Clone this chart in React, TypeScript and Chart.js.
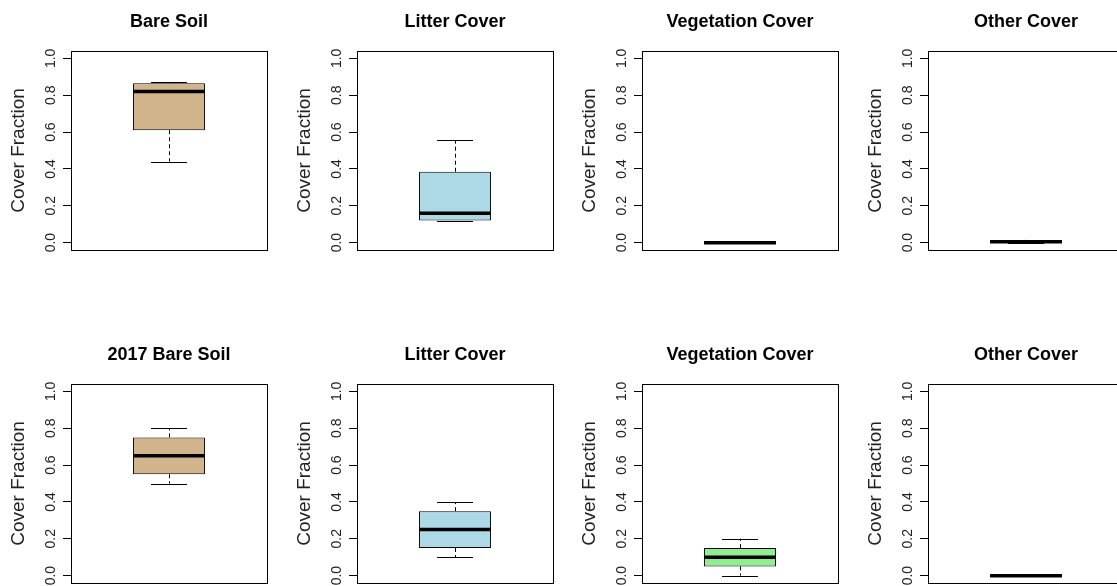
import React, { useEffect, useRef } from 'react';
import { Chart, registerables } from 'chart.js';

Chart.register(...registerables);

// ---- data ----
const TITLES_TOP = ['Bare Soil', 'Litter Cover', 'Vegetation Cover', 'Other Cover'];
const TITLES_BOTTOM = ['2017 Bare Soil', 'Litter Cover', 'Vegetation Cover', 'Other Cover'];
const Y_LABEL = 'Cover Fraction';
const Y_TICKS = [0, 0.2, 0.4, 0.6, 0.8, 1.0];

// five-number summaries: [min, q1, median, q3, max]
const BARE_SOIL_TOP = [0.44, 0.61, 0.82, 0.865, 0.87];
const LITTER_TOP = [0.12, 0.12, 0.16, 0.385, 0.555];
const VEGETATION_TOP = [0, 0, 0, 0, 0];
const OTHER_TOP = [0, 0, 0.005, 0.007, 0.015];

const BARE_SOIL_2017 = [0.5, 0.55, 0.65, 0.75, 0.8];
const LITTER_2017 = [0.1, 0.15, 0.25, 0.35, 0.4];
const VEGETATION_2017 = [0, 0.05, 0.1, 0.15, 0.2];
const OTHER_2017 = [0, 0, 0, 0, 0];

// ---- styles ----
const BOX_COLORS = ['#D2B48C', '#ADD8E6', '#90EE90', '#BEBEBE'];
const FONT = '"Liberation Sans", Arial, Helvetica, sans-serif';
const COL_W = 286;
const ROW_TOP = [0, 333];
const CANVAS_H = 270;

type PanelProps = {
  title: string;
  stats: number[];
  color: string;
  left: number;
  top: number;
};

function BoxPanel({ title, stats, color, left, top }: PanelProps) {
  const ref = useRef<HTMLCanvasElement>(null);

  useEffect(() => {
    if (!ref.current) return;
    const [mn, q1, med, q3, mx] = stats;

    const boxPlugin = {
      id: 'boxWhiskers',
      beforeDatasetsDraw(chart: any) {
        const bar = chart.getDatasetMeta(0).data[0];
        if (!bar) return;
        const { x, width } = bar.getProps(['x', 'width'], true);
        const ys = chart.scales.y;
        const ctx = chart.ctx;
        ctx.save();
        ctx.strokeStyle = '#000';
        ctx.lineWidth = 1;
        const xc = Math.round(x) + 0.5;
        ctx.setLineDash([4, 3]);
        ctx.beginPath();
        ctx.moveTo(xc, ys.getPixelForValue(q3));
        ctx.lineTo(xc, ys.getPixelForValue(mx));
        ctx.moveTo(xc, ys.getPixelForValue(q1));
        ctx.lineTo(xc, ys.getPixelForValue(mn));
        ctx.stroke();
        ctx.setLineDash([]);
        const half = width / 4;
        [mn, mx].forEach((v) => {
          const py = Math.round(ys.getPixelForValue(v)) + 0.5;
          ctx.beginPath();
          ctx.moveTo(x - half, py);
          ctx.lineTo(x + half, py);
          ctx.stroke();
        });
        ctx.restore();
      },
      afterDatasetsDraw(chart: any) {
        const bar = chart.getDatasetMeta(0).data[0];
        if (!bar) return;
        const { x, width } = bar.getProps(['x', 'width'], true);
        const ys = chart.scales.y;
        const ctx = chart.ctx;
        ctx.save();
        ctx.strokeStyle = '#000';
        ctx.lineWidth = 3.5;
        ctx.lineCap = 'butt';
        const py = ys.getPixelForValue(med);
        ctx.beginPath();
        ctx.moveTo(x - width / 2, py);
        ctx.lineTo(x + width / 2, py);
        ctx.stroke();
        ctx.restore();
      },
      afterDraw(chart: any) {
        const { left: l, right: r, top: t, bottom: b } = chart.chartArea;
        const ctx = chart.ctx;
        ctx.save();
        ctx.strokeStyle = '#000';
        ctx.lineWidth = 1;
        ctx.strokeRect(Math.round(l) + 0.5, Math.round(t) + 0.5, Math.round(r - l), Math.round(b - t));
        ctx.restore();
      },
    };

    const chart = new Chart(ref.current, {
      type: 'bar',
      data: {
        labels: [''],
        datasets: [
          {
            data: [[q1, q3]] as any,
            backgroundColor: color,
            borderColor: '#000',
            borderWidth: 1,
            borderSkipped: false,
            barPercentage: 0.367,
            categoryPercentage: 1,
          },
        ],
      },
      options: {
        responsive: false,
        animation: false,
        events: [],
        layout: { padding: { left: 0, right: 19, top: 0, bottom: 20 } },
        plugins: {
          legend: { display: false },
          tooltip: { enabled: false },
          title: {
            display: true,
            text: title,
            fullSize: false,
            color: '#000',
            font: { family: FONT, size: 18, weight: 'bold', lineHeight: 1 },
            padding: { top: 13, bottom: 20 },
          },
        },
        scales: {
          x: { display: false },
          y: {
            min: -0.04,
            max: 1.04,
            afterFit: (s: any) => {
              s.width = 71;
            },
            afterBuildTicks: (s: any) => {
              s.ticks = Y_TICKS.map((v) => ({ value: v }));
            },
            border: { display: false },
            grid: {
              display: true,
              drawOnChartArea: false,
              drawTicks: true,
              tickLength: 8,
              tickColor: '#000',
              lineWidth: 1,
            },
            ticks: {
              minRotation: 90,
              maxRotation: 90,
              crossAlign: 'center',
              padding: 2,
              color: '#222',
              font: { family: FONT, size: 14 },
              callback: (v: any) => Number(v).toFixed(1),
            },
            title: {
              display: true,
              text: Y_LABEL,
              color: '#222',
              font: { family: FONT, size: 19, lineHeight: 1 },
              padding: { top: 9, bottom: 0 },
            },
          },
        },
      } as any,
      plugins: [boxPlugin],
    });

    return () => chart.destroy();
  }, [title, stats, color]);

  return (
    <canvas
      ref={ref}
      width={COL_W}
      height={CANVAS_H}
      style={{ position: 'absolute', left, top, width: COL_W, height: CANVAS_H }}
    />
  );
}

export default function App() {
  const topStats = [BARE_SOIL_TOP, LITTER_TOP, VEGETATION_TOP, OTHER_TOP];
  const bottomStats = [BARE_SOIL_2017, LITTER_2017, VEGETATION_2017, OTHER_2017];
  const colLeft = (i: number) => Math.round(i * 285.7);
  return (
    <div
      style={{
        position: 'fixed',
        left: 0,
        top: 0,
        width: 1117,
        height: 586,
        overflow: 'hidden',
        background: '#fff',
      }}
    >
      {TITLES_TOP.map((t, i) => (
        <BoxPanel key={'t' + i} title={t} stats={topStats[i]} color={BOX_COLORS[i]} left={colLeft(i)} top={ROW_TOP[0]} />
      ))}
      {TITLES_BOTTOM.map((t, i) => (
        <BoxPanel key={'b' + i} title={t} stats={bottomStats[i]} color={BOX_COLORS[i]} left={colLeft(i)} top={ROW_TOP[1]} />
      ))}
    </div>
  );
}
